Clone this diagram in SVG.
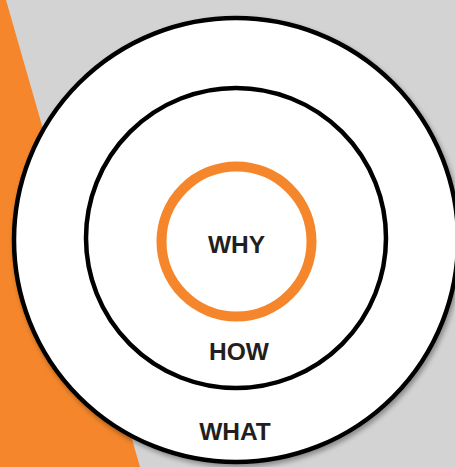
<svg xmlns="http://www.w3.org/2000/svg" width="455" height="467" viewBox="0 0 455 467">
<defs>
<style>
.ring{fill:#ffffff;stroke:#000000;stroke-width:4.5}
.lbl{font-family:"Liberation Sans",Arial,sans-serif;font-weight:bold;font-size:24.5px;fill:#231f20;text-anchor:middle}
</style>
<filter id="sh" x="-10%" y="-10%" width="120%" height="120%">
<feDropShadow dx="2" dy="3" stdDeviation="2.5" flood-color="#000000" flood-opacity="0.35"/>
</filter>
</defs>
<rect x="0" y="0" width="455" height="467" fill="#d3d3d3"/>
<polygon points="0,0 6,0 140,467 0,467" fill="#f5862b"/>
<g id="what">
<circle class="ring" cx="236" cy="240" r="222" filter="url(#sh)"/>
<text class="lbl" x="235" y="440">WHAT</text>
</g>
<g id="how">
<circle class="ring" cx="236" cy="238" r="150"/>
<text class="lbl" x="239" y="360">HOW</text>
</g>
<g id="why">
<circle cx="236.5" cy="241.5" r="75" fill="#ffffff" stroke="#f5862b" stroke-width="10"/>
<text class="lbl" x="236.5" y="252.5">WHY</text>
</g>
<g id="connectors"></g>
</svg>
